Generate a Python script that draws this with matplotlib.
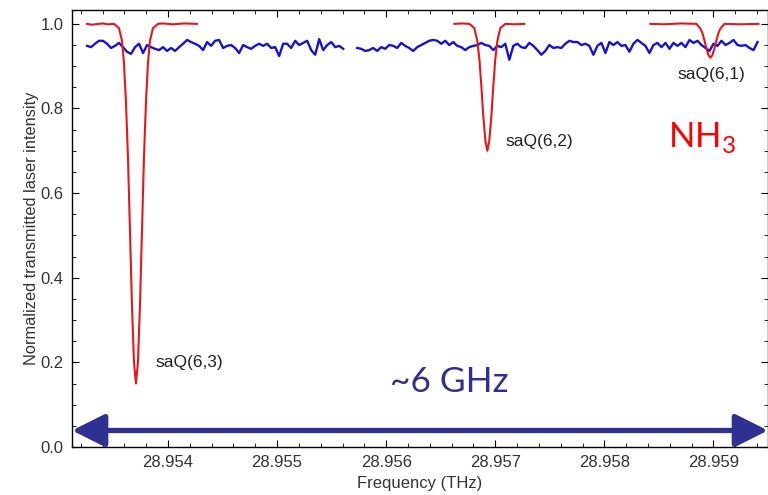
import numpy as np
import matplotlib
matplotlib.use("Agg")
import matplotlib.pyplot as plt
from matplotlib.ticker import MultipleLocator, FormatStrFormatter

plt.rcParams['font.family'] = ['Liberation Sans', 'DejaVu Sans']
plt.rcParams['mathtext.fontset'] = 'custom'
plt.rcParams['mathtext.rm'] = 'Lato'

# blue trace (two pieces, there is a gap in the scan)
blue_a_start, blue_a_end = 28.953257, 28.955606
blue_a = [0.948, 0.945, 0.953, 0.960, 0.960, 0.953, 0.943, 0.948, 0.955, 0.945,
          0.934, 0.929, 0.945, 0.953, 0.931, 0.950, 0.945, 0.941, 0.938, 0.945,
          0.936, 0.943, 0.936, 0.945, 0.953, 0.962, 0.957, 0.953, 0.948, 0.938,
          0.957, 0.948, 0.960, 0.962, 0.943, 0.948, 0.950, 0.943, 0.931, 0.950,
          0.945, 0.941, 0.948, 0.953, 0.948, 0.953, 0.943, 0.945, 0.924, 0.953,
          0.953, 0.943, 0.960, 0.950, 0.955, 0.960, 0.938, 0.927, 0.964, 0.938,
          0.950, 0.957, 0.945, 0.948, 0.941]
blue_b_start, blue_b_end = 28.955734, 28.959404
blue_b = [0.943, 0.941, 0.936, 0.938, 0.943, 0.936, 0.945, 0.941, 0.950, 0.948,
          0.943, 0.955, 0.948, 0.943, 0.936, 0.945, 0.950, 0.955, 0.960, 0.962,
          0.960, 0.953, 0.960, 0.950, 0.957, 0.948, 0.945, 0.938, 0.945, 0.948,
          0.950, 0.955, 0.950, 0.948, 0.938, 0.948, 0.945, 0.953, 0.915, 0.948,
          0.953, 0.945, 0.943, 0.955, 0.948, 0.938, 0.927, 0.936, 0.950, 0.943,
          0.945, 0.943, 0.953, 0.960, 0.957, 0.957, 0.950, 0.953, 0.948, 0.927,
          0.948, 0.955, 0.931, 0.957, 0.950, 0.957, 0.948, 0.950, 0.934, 0.953,
          0.962, 0.955, 0.948, 0.931, 0.950, 0.955, 0.945, 0.955, 0.941, 0.955,
          0.948, 0.955, 0.945, 0.962, 0.955, 0.960, 0.950, 0.943, 0.936, 0.953,
          0.948, 0.960, 0.950, 0.955, 0.962, 0.950, 0.948, 0.950, 0.943, 0.938,
          0.957]

# red trace, saQ(6,3)
red1_f = [28.953257, 28.953300, 28.953400, 28.953450, 28.953504, 28.953550,
          28.953578, 28.953596, 28.953614, 28.953633, 28.953651, 28.953669,
          28.953688, 28.953706, 28.953724, 28.953743, 28.953761, 28.953779,
          28.953798, 28.953816, 28.953834, 28.953862, 28.953908, 28.953950,
          28.954050, 28.954150, 28.954266]
red1_v = [1.000, 0.998, 1.001, 0.999, 1.000, 0.990, 0.960, 0.907, 0.817, 0.682,
          0.511, 0.337, 0.200, 0.150, 0.200, 0.337, 0.511, 0.682, 0.817, 0.907,
          0.960, 0.990, 1.000, 1.001, 0.999, 1.001, 1.000]
# saQ(6,2)
red2_f = [28.956624, 28.956700, 28.956762, 28.956808, 28.956835, 28.956854,
          28.956872, 28.956890, 28.956909, 28.956927, 28.956945, 28.956964,
          28.956982, 28.957000, 28.957019, 28.957046, 28.957092, 28.957180,
          28.957266]
red2_v = [1.000, 1.001, 1.000, 0.990, 0.960, 0.917, 0.854, 0.782, 0.724, 0.700,
          0.724, 0.782, 0.854, 0.917, 0.960, 0.990, 1.000, 0.999, 1.000]
# saQ(6,1)
red3_f = [28.958422, 28.958550, 28.958700, 28.958844, 28.958880, 28.958899,
          28.958917, 28.958935, 28.958954, 28.958972, 28.958990, 28.959009,
          28.959027, 28.959045, 28.959064, 28.959100, 28.959250, 28.959413]
red3_v = [1.000, 0.999, 1.001, 1.000, 0.989, 0.978, 0.961, 0.942, 0.926, 0.920,
          0.926, 0.942, 0.961, 0.978, 0.989, 1.000, 0.999, 1.000]

peak_labels = ["saQ(6,3)", "saQ(6,2)", "saQ(6,1)"]
label_f = [28.953881, 28.957092, 28.958670]
label_v = [0.200, 0.723, 0.880]

red = '#E8161C'
blue = '#1515D0'
navy = '#2E3192'

fig = plt.figure(figsize=(7.68, 4.95), dpi=100)
ax = fig.add_axes([0.0938, 0.097, 0.9062, 0.883])

fa = np.linspace(blue_a_start, blue_a_end, len(blue_a))
fb = np.linspace(blue_b_start, blue_b_end, len(blue_b))
ax.plot(fa, blue_a, color=blue, lw=1.7)
ax.plot(fb, blue_b, color=blue, lw=1.7)

for f, v in [(red1_f, red1_v), (red2_f, red2_v), (red3_f, red3_v)]:
    ax.plot(f, v, color=red, lw=1.5)

for t, f, v in zip(peak_labels, label_f, label_v):
    ax.text(f, v, t, fontsize=12.5, color='#222222', ha='left', va='center')

ax.text(28.958587, 0.709, r'NH$_\mathregular{3}$', fontsize=25, color='red',
        family='Lato', ha='left', va='baseline')
ax.text(28.956578, 0.153, '~6 GHz', fontsize=25.5, color=navy, family='Lato',
        ha='center', va='center')

ax.annotate('', xy=(0, 0.039), xytext=(1, 0.039),
            xycoords=('axes fraction', 'data'), textcoords=('axes fraction', 'data'),
            arrowprops=dict(arrowstyle='<|-|>,head_length=2.0,head_width=1.0',
                            mutation_scale=10, lw=3.8, color=navy,
                            shrinkA=0, shrinkB=0))

ax.set_xlim(28.95312, 28.9595)
ax.set_ylim(0, 1.033)
ax.xaxis.set_major_locator(MultipleLocator(0.001))
ax.xaxis.set_minor_locator(MultipleLocator(0.0002))
ax.xaxis.set_major_formatter(FormatStrFormatter('%.3f'))
ax.yaxis.set_major_locator(MultipleLocator(0.2))
ax.yaxis.set_minor_locator(MultipleLocator(0.05))
ax.yaxis.set_major_formatter(FormatStrFormatter('%.1f'))
ax.tick_params(which='both', direction='in', top=True, right=True,
               labelsize=12, labelcolor='#333333', pad=6)
ax.tick_params(which='major', length=5, width=0.8)
ax.tick_params(which='minor', length=3, width=0.6)
for s in ax.spines.values():
    s.set_linewidth(1.0)

ax.set_xlabel('Frequency (THz)', fontsize=12, color='#333333', labelpad=4)
ax.set_ylabel('Normalized transmitted laser intensity', fontsize=11.8,
              color='#333333', labelpad=1)

fig.savefig('out.png', dpi=100)
